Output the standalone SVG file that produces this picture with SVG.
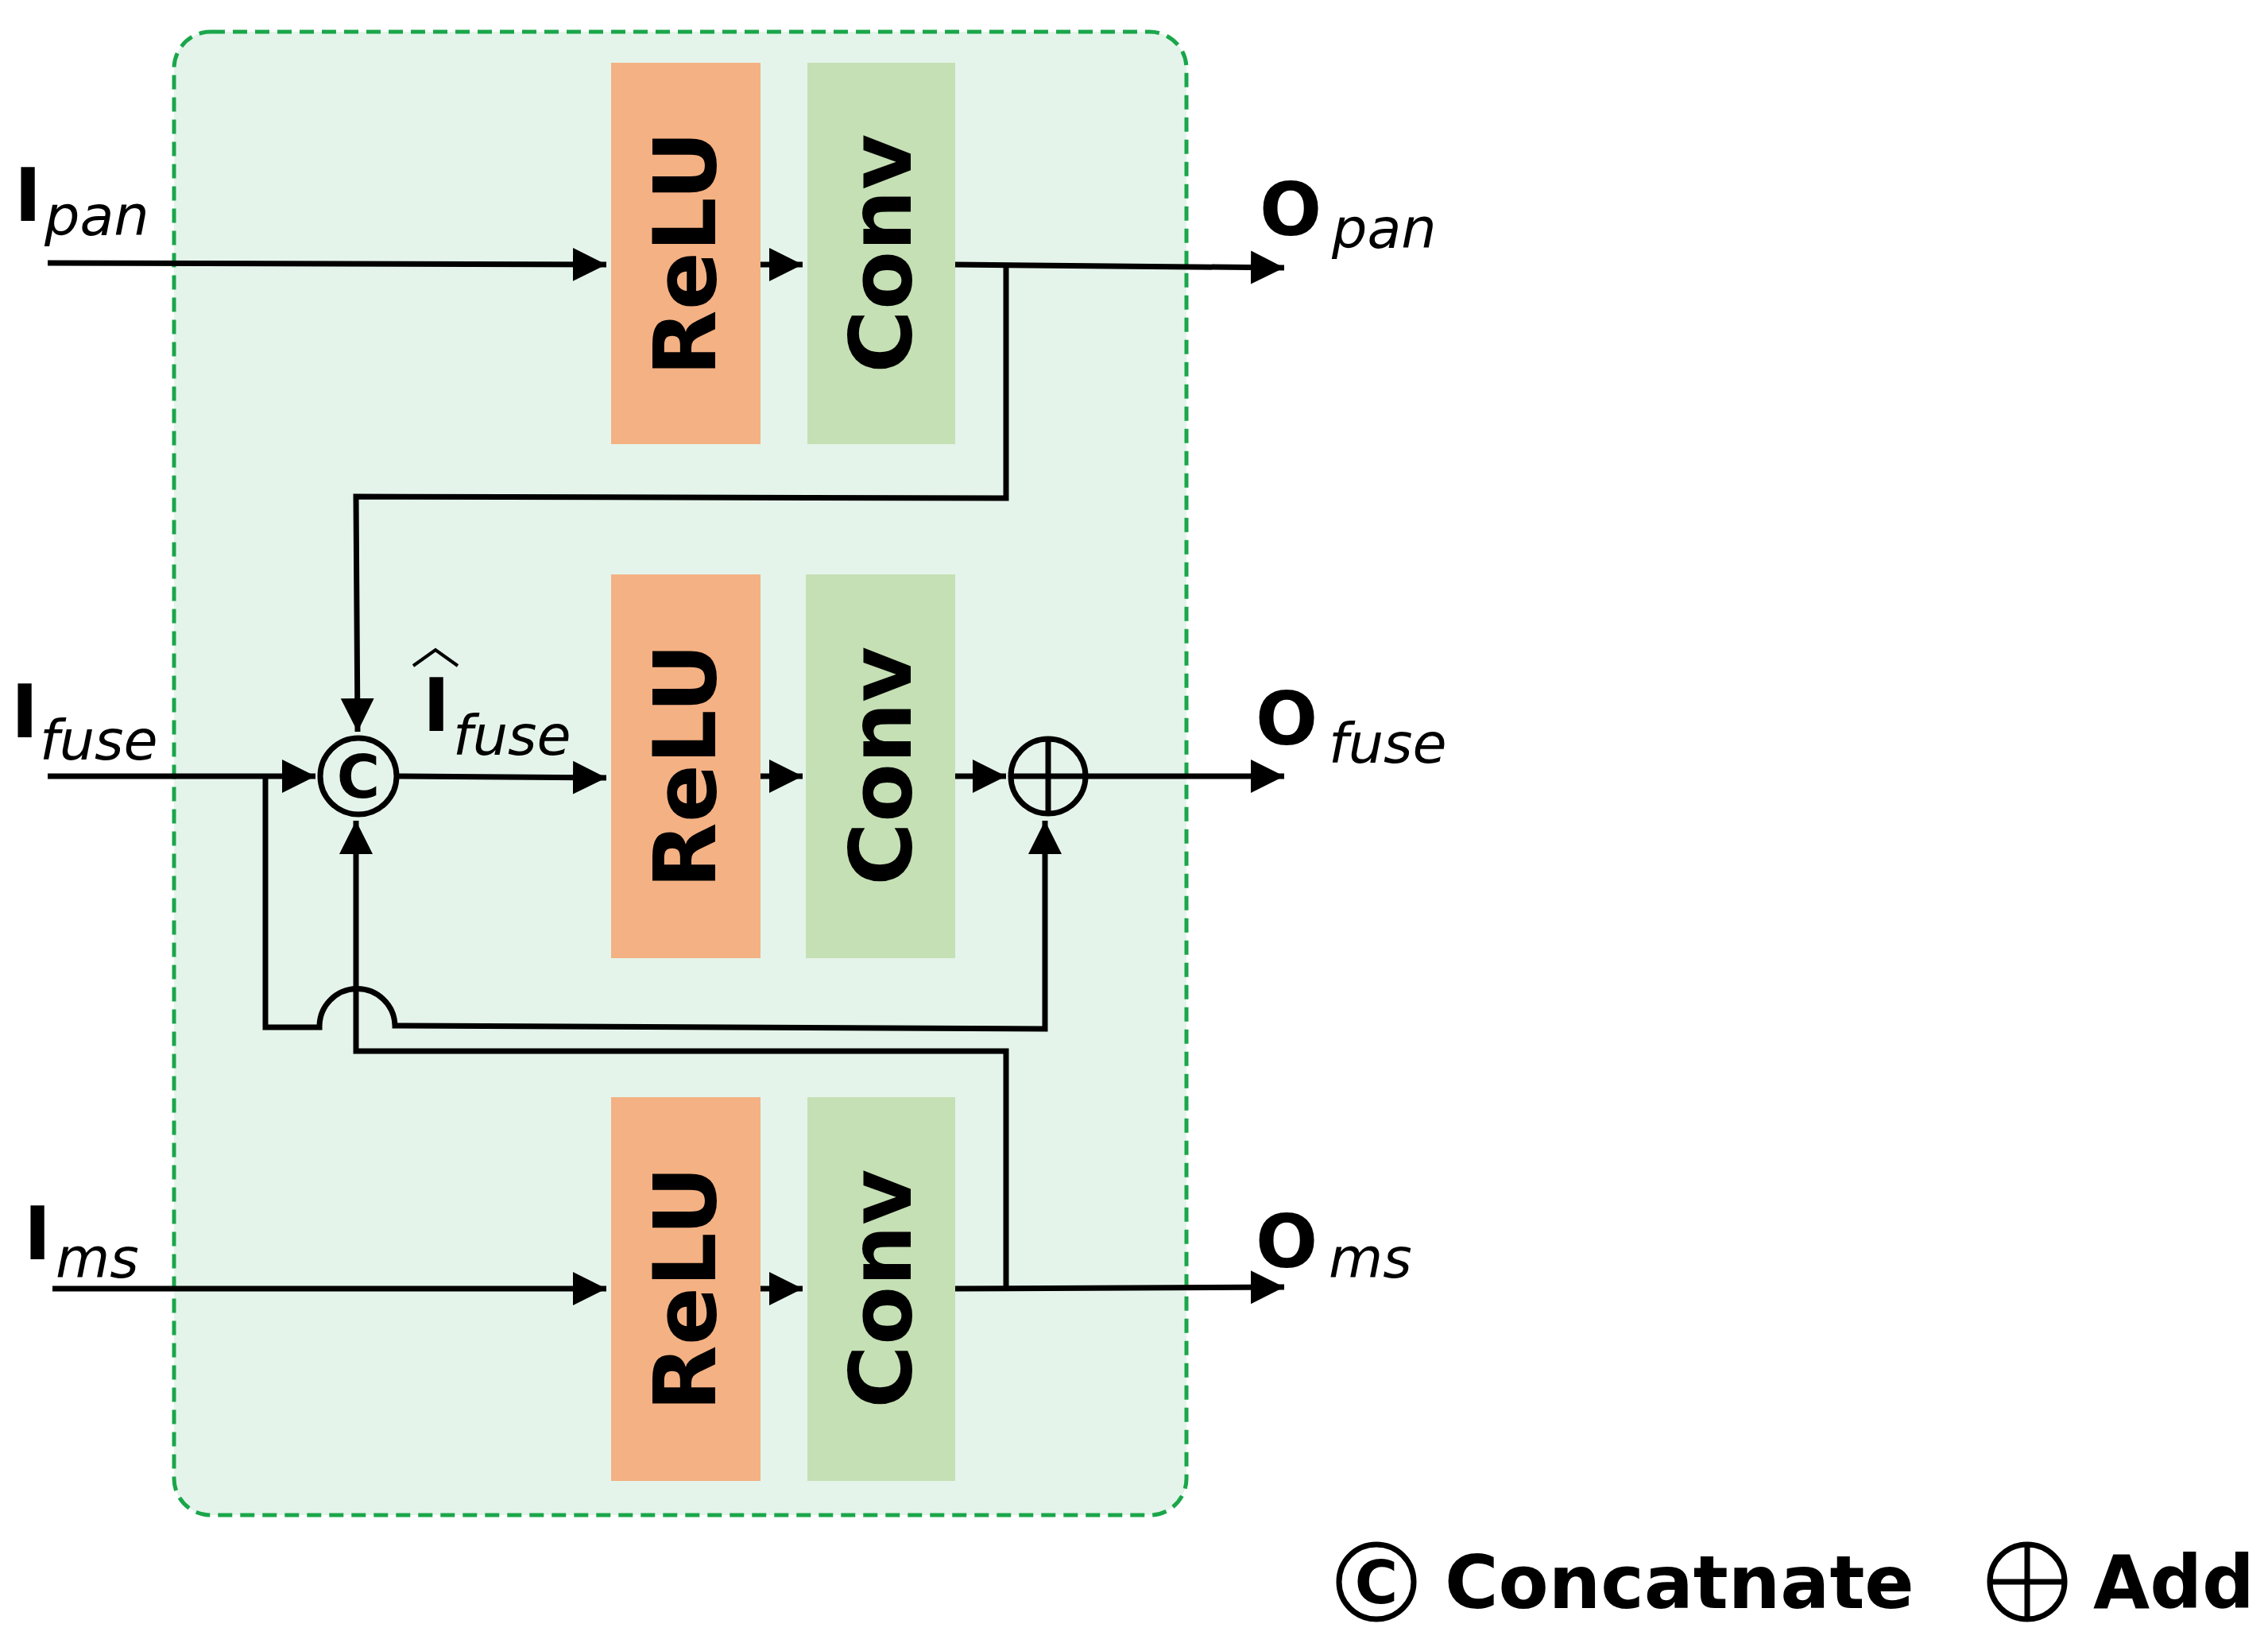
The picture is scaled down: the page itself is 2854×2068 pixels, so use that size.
<svg xmlns="http://www.w3.org/2000/svg" width="2854" height="2068" viewBox="0 0 2854 2068">
<defs>
<style>
.ln{fill:none;stroke:#000;stroke-width:7}
.relu{fill:#f4b183}
.conv{fill:#c5e0b4}
.bt{font-family:"DejaVu Sans",sans-serif;font-weight:bold;font-size:108px;fill:#000}
.big{font-family:"DejaVu Sans",sans-serif;font-weight:bold;font-size:92px;fill:#000}
.sub{font-family:"DejaVu Sans",sans-serif;font-style:italic;font-size:70px;fill:#000}
</style>
<marker id="ah" markerWidth="8" markerHeight="8" refX="6" refY="4" orient="auto" markerUnits="strokeWidth"><path d="M0,1 L6,4 L0,7 Z" fill="#000"/></marker>
</defs>
<rect width="2854" height="2068" fill="#fff"/>
<g id="container"><rect x="219" y="40" width="1274" height="1867" rx="46" fill="#e4f4ea" stroke="#1aa64a" stroke-width="5" stroke-dasharray="18,10"/></g>
<g id="relu1"><rect class="relu" x="769" y="79" width="188" height="480"/><text class="bt" transform="translate(900,319) rotate(-90)" text-anchor="middle">ReLU</text></g>
<g id="conv1"><rect class="conv" x="1016" y="79" width="186" height="480"/><text class="bt" transform="translate(1146,319) rotate(-90)" text-anchor="middle">Conv</text></g>
<g id="relu2"><rect class="relu" x="769" y="723" width="188" height="483"/><text class="bt" transform="translate(900,964) rotate(-90)" text-anchor="middle">ReLU</text></g>
<g id="conv2"><rect class="conv" x="1014" y="723" width="188" height="483"/><text class="bt" transform="translate(1146,964) rotate(-90)" text-anchor="middle">Conv</text></g>
<g id="relu3"><rect class="relu" x="769" y="1381" width="188" height="483"/><text class="bt" transform="translate(900,1622) rotate(-90)" text-anchor="middle">ReLU</text></g>
<g id="conv3"><rect class="conv" x="1016" y="1381" width="186" height="483"/><text class="bt" transform="translate(1146,1622) rotate(-90)" text-anchor="middle">Conv</text></g>
<g id="concat"><circle class="ln" cx="451" cy="977" r="48"/><text x="451" y="1004" text-anchor="middle" font-family="DejaVu Sans,sans-serif" font-size="74" font-weight="bold">C</text></g>
<g id="add"><circle class="ln" cx="1319" cy="977" r="47"/><path class="ln" d="M1272,977 H1366 M1319,930 V1024"/></g>
<g id="connectors">
<path class="ln" d="M60,331 L763,333" marker-end="url(#ah)"/>
<path class="ln" d="M957,333 H1010" marker-end="url(#ah)"/>
<path class="ln" d="M1202,333 L1616,337" marker-end="url(#ah)"/>
<path class="ln" d="M1266,334 V627 L448,625 L450,921" marker-end="url(#ah)"/>
<path class="ln" d="M60,977 H397" marker-end="url(#ah)"/>
<path class="ln" d="M500,977 L763,979" marker-end="url(#ah)"/>
<path class="ln" d="M957,977 H1010" marker-end="url(#ah)"/>
<path class="ln" d="M1202,977 H1266" marker-end="url(#ah)"/>
<path class="ln" d="M1366,977 H1616" marker-end="url(#ah)"/>
<path class="ln" d="M334,977 V1293 H402 A47,47 0 0 1 497,1291 L1315,1295 V1033" marker-end="url(#ah)"/>
<path class="ln" d="M1266,1620 V1323 H448 V1033" marker-end="url(#ah)"/>
<path class="ln" d="M66,1622 H763" marker-end="url(#ah)"/>
<path class="ln" d="M957,1622 H1010" marker-end="url(#ah)"/>
<path class="ln" d="M1202,1622 L1616,1620" marker-end="url(#ah)"/>
</g>
<g id="labels">
<text class="big" x="18" y="278">I</text><text class="sub" x="56" y="296">pan</text>
<text class="big" x="1585" y="296">O</text><text class="sub" x="1676" y="312">pan</text>
<text class="big" x="14" y="928">I</text><text class="sub" x="50" y="956">fuse</text>
<text class="big" x="532" y="920">I</text><path d="M520,838 L548,818 L576,838" fill="none" stroke="#000" stroke-width="4"/><text class="sub" x="570" y="950">fuse</text>
<text class="big" x="1580" y="937">O</text><text class="sub" x="1672" y="960">fuse</text>
<text class="big" x="30" y="1585">I</text><text class="sub" x="70" y="1608">ms</text>
<text class="big" x="1580" y="1595">O</text><text class="sub" x="1672" y="1608">ms</text>
</g>
<g id="legend">
<circle class="ln" cx="1732" cy="1991" r="47"/><text x="1732" y="2018" text-anchor="middle" font-family="DejaVu Sans,sans-serif" font-size="74" font-weight="bold">C</text>
<text class="big" x="1818" y="2024">Concatnate</text>
<circle class="ln" cx="2551" cy="1991" r="47"/><path class="ln" d="M2504,1991 H2598 M2551,1944 V2038"/>
<text class="big" x="2634" y="2024">Add</text>
</g>
</svg>
